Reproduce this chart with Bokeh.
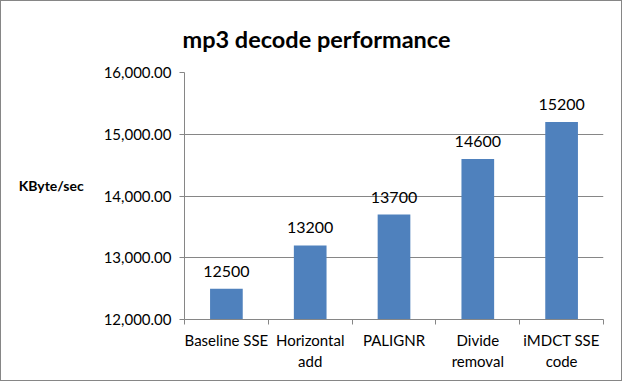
from bokeh.plotting import figure
from bokeh.models import Range1d, FixedTicker, NumeralTickFormatter, ColumnDataSource
from bokeh.core.properties import value
from bokeh.embed import file_html
from bokeh.resources import INLINE

categories = ["Baseline SSE", "Horizontal\nadd", "PALIGNR", "Divide\nremoval", "iMDCT SSE\ncode"]
values = [12500, 13200, 13700, 14600, 15200]
y_ticks = [12000, 13000, 14000, 15000, 16000]
title_text = "mp3 decode performance"
y_label = "KByte/sec"

FONT = "Lato"
GRID = "#868686"

n = len(categories)
centers = [i + 0.5 for i in range(n)]
src = ColumnDataSource(dict(x=centers, top=values, txt=[str(v) for v in values]))

p = figure(width=622, height=381, output_backend="svg", toolbar_location=None,
           x_range=Range1d(0, n), y_range=Range1d(12000, 16000),
           min_border_left=183, min_border_right=20, min_border_top=71, min_border_bottom=63)
p.outline_line_color = None
p.background_fill_color = "white"
p.border_fill_color = "white"
p.styles = {"border": "1px solid #868686", "box-sizing": "border-box"}

p.title.text = title_text
p.title.text_font = FONT
p.title.text_font_style = "bold"
p.title.text_font_size = "23.5px"
p.title.text_color = "#000000"
p.title.align = "left"
p.title.offset = -2
p.title.vertical_align = "top"
p.title.standoff = 36

p.vbar(x="x", top="top", bottom=12000, width=0.39, source=src,
       fill_color="#4F81BD", line_color=None)
p.text(x="x", y="top", text="txt", source=src, text_align="center",
       text_baseline="bottom", y_offset=-12, text_font=value(FONT),
       text_font_size="16px", text_color="#000000")

# x axis
xa = p.xaxis[0]
xa.ticker = FixedTicker(ticks=centers, minor_ticks=list(range(n + 1)))
xa.major_label_overrides = {c: lab for c, lab in zip(centers, categories)}
xa.major_tick_out = 0
xa.major_tick_in = 0
xa.minor_tick_out = 5
xa.minor_tick_in = 0
xa.minor_tick_line_color = GRID
xa.axis_line_color = GRID
xa.major_label_text_font = FONT
xa.major_label_text_font_size = "15px"
xa.major_label_text_color = "#000000"
xa.major_label_standoff = 6

# y axis
ya = p.yaxis[0]
ya.ticker = FixedTicker(ticks=y_ticks, minor_ticks=[])
ya.formatter = NumeralTickFormatter(format="0,0.00")
ya.major_tick_out = 5
ya.major_tick_in = 0
ya.major_tick_line_color = GRID
ya.axis_line_color = GRID
ya.major_label_text_font = FONT
ya.major_label_text_font_size = "15px"
ya.major_label_text_color = "#000000"
ya.major_label_standoff = 8
ya.axis_label = y_label + "\n"
ya.axis_label_orientation = "horizontal"
ya.axis_label_text_font = FONT
ya.axis_label_text_font_style = "bold"
ya.axis_label_text_font_size = "14px"
ya.axis_label_text_color = "#000000"
ya.axis_label_standoff = 17

p.xgrid.grid_line_color = None
p.ygrid.ticker = FixedTicker(ticks=y_ticks)
p.ygrid.grid_line_color = GRID

open("out.html", "w").write(file_html(p, INLINE))
